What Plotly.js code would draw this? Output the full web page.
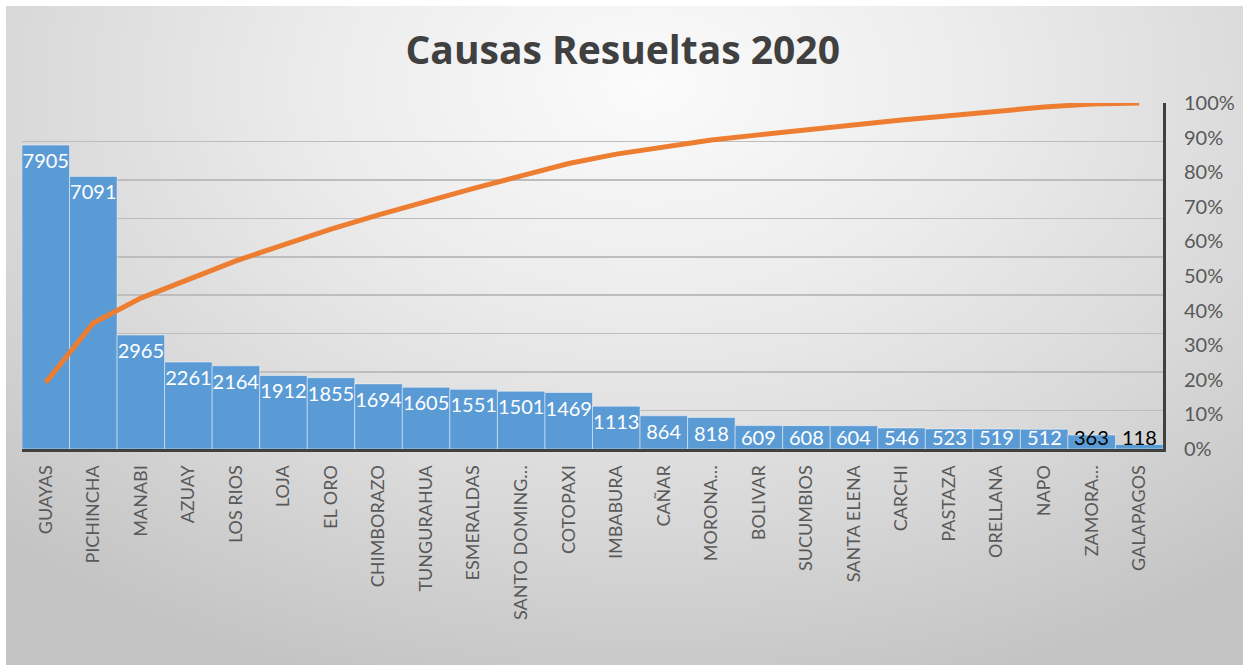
<!DOCTYPE html>
<html>
<head>
<meta charset="utf-8">
<script src="https://cdn.plot.ly/plotly-3.0.1.min.js"></script>
<style>
  html, body { margin: 0; padding: 0; background: #ffffff; }
  #wrap { position: relative; width: 1243px; height: 666px; overflow: hidden; }
  #bg { position: absolute; left: 6px; top: 6px; width: 1237px; height: 659px;
        background: radial-gradient(ellipse 75% 95% at 52% 12%, #fbfbfb 0%, #ececec 35%, #d8d8d8 70%, #c4c4c4 100%); }
  #chart { position: absolute; left: 0; top: 0; width: 1243px; height: 666px; }
</style>
</head>
<body>
<div id="wrap"><div id="bg"></div><div id="chart"></div></div>
<script>
const categories = ["GUAYAS","PICHINCHA","MANABI","AZUAY","LOS RIOS","LOJA","EL ORO","CHIMBORAZO","TUNGURAHUA","ESMERALDAS","SANTO DOMING…","COTOPAXI","IMBABURA","CAÑAR","MORONA…","BOLIVAR","SUCUMBIOS","SANTA ELENA","CARCHI","PASTAZA","ORELLANA","NAPO","ZAMORA…","GALAPAGOS"];
const causas = [7905,7091,2965,2261,2164,1912,1855,1694,1605,1551,1501,1469,1113,864,818,609,608,604,546,523,519,512,363,118];
const pctTicks = [0,0.1,0.2,0.3,0.4,0.5,0.6,0.7,0.8,0.9,1];

// cumulative percentage (Pareto line) derived from the data
const total = causas.reduce((a,b)=>a+b,0);
let run = 0;
const cumPct = causas.map(v => { run += v; return run/total; });

// labels of the short bars rest on the baseline; the last two are black
const firstBaseLabel = 15;   // from BOLIVAR on
const nBlack = 2;
const onBase = causas.map((v,i) => i >= firstBaseLabel);
const labelFont = { family: 'Lato, sans-serif', size: 20 };

const bars = {
  type: 'bar', x: categories, y: causas,
  text: causas.map(String),
  textposition: onBase.map(s => s ? 'none' : 'inside'),
  insidetextanchor: 'end', textangle: 0, constraintext: 'none',
  textfont: Object.assign({ color: '#ffffff' }, labelFont),
  marker: { color: '#5B9BD5', line: { color: 'rgba(255,255,255,0.45)', width: 1 } },
  hoverinfo: 'x+y'
};
const line = {
  type: 'scatter', mode: 'lines', x: categories, y: cumPct, yaxis: 'y2',
  line: { color: '#ED7D31', width: 5 }, hoverinfo: 'x+y'
};

const annotations = categories
  .map((c, i) => ({ c, i }))
  .filter(o => onBase[o.i])
  .map(o => ({
    x: o.c, y: 0, xref: 'x', yref: 'y', yanchor: 'bottom', xanchor: 'center', yshift: -2,
    text: String(causas[o.i]), showarrow: false,
    font: Object.assign({ color: o.i >= causas.length - nBlack ? '#000000' : '#ffffff' }, labelFont)
  }));

const layout = {
  width: 1243, height: 666,
  paper_bgcolor: 'rgba(0,0,0,0)', plot_bgcolor: 'rgba(0,0,0,0)',
  margin: { l: 22, r: 80, t: 103, b: 217 },
  showlegend: false,
  bargap: 0,
  annotations: annotations,
  title: { text: '<b>Causas Resueltas 2020</b>', x: 0.501, xanchor: 'center', y: 0.925, yanchor: 'middle',
           font: { family: '"Open Sans", sans-serif', size: 39, color: '#404040' } },
  xaxis: {
    type: 'category', tickangle: -90, showgrid: false,
    showline: true, linecolor: '#404040', linewidth: 3,
    ticks: '', ticklabelstandoff: 6,
    tickfont: { family: 'Lato, sans-serif', size: 18, color: '#595959' }
  },
  yaxis: {
    range: [0, 9000], dtick: 1000, showticklabels: false, ticks: '',
    showgrid: true, gridcolor: '#bdbdbd', gridwidth: 1.5, zeroline: false, showline: false
  },
  yaxis2: {
    overlaying: 'y', side: 'right', range: [0, 1], tickvals: pctTicks, tickformat: '.0%',
    showgrid: false, zeroline: false, showline: true, linecolor: '#404040', linewidth: 3,
    ticks: '', ticklabelstandoff: 14,
    tickfont: { family: 'Lato, sans-serif', size: 20, color: '#595959' }
  }
};

Plotly.newPlot('chart', [bars, line], layout, { displayModeBar: false, staticPlot: true });
</script>
</body>
</html>
